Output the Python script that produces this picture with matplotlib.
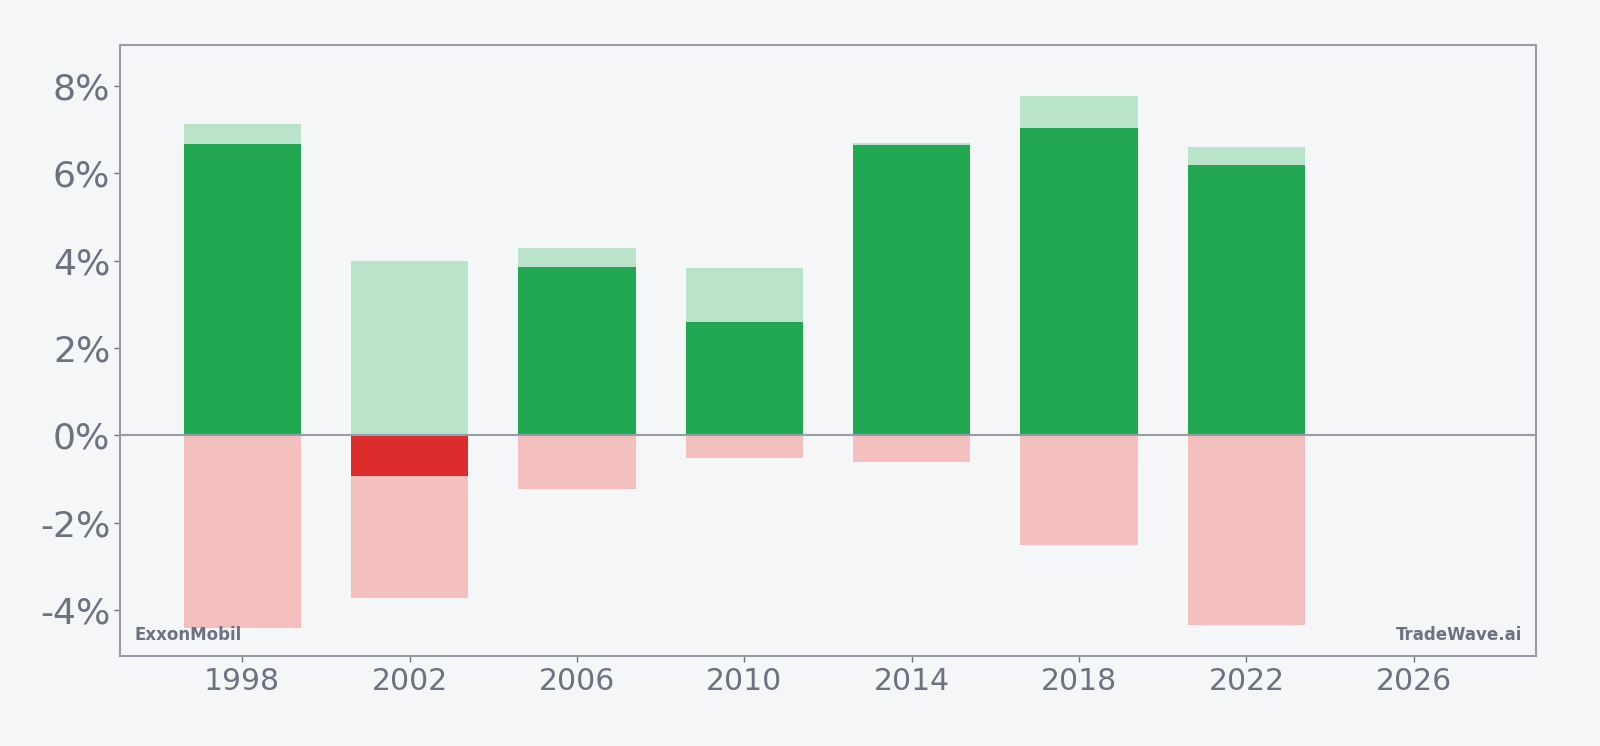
import matplotlib
matplotlib.use("Agg")
import matplotlib.pyplot as plt
from matplotlib.ticker import FuncFormatter

# yearly return range per period (percent)
years = [1998, 2002, 2006, 2010, 2014, 2018, 2022]
high = [7.13, 4.00, 4.29, 3.82, 6.69, 7.77, 6.60]
actual = [6.67, -0.93, 3.85, 2.59, 6.65, 7.04, 6.19]
low = [-4.40, -3.73, -1.22, -0.52, -0.61, -2.50, -4.35]
x_ticks = [1998, 2002, 2006, 2010, 2014, 2018, 2022, 2026]
y_ticks = [-4, -2, 0, 2, 4, 6, 8]

bg = '#f5f6f8'
axis_col = '#9a9ca8'
text_col = '#6b7280'
dark_green = '#22a853'
light_green = '#b9e4ca'
dark_red = '#dc2c2c'
light_red = '#f4bfbf'

fig = plt.figure(figsize=(16, 7.46), dpi=100, facecolor=bg)
ax = fig.add_axes([0.075, 0.1206, 0.885, 0.8194])
ax.set_facecolor(bg)

w = 2.8
ax.bar(years, high, width=w, color=light_green, zorder=2)
ax.bar(years, low, width=w, color=light_red, zorder=2)
pos = [a if a > 0 else 0 for a in actual]
neg = [a if a < 0 else 0 for a in actual]
ax.bar(years, pos, width=w, color=dark_green, zorder=3)
ax.bar(years, neg, width=w, color=dark_red, zorder=3)

ax.axhline(0, color=axis_col, linewidth=1.5, zorder=4)

ax.set_xlim(1995.08, 2028.92)
ax.set_ylim(-5.05, 8.94)
ax.set_xticks(x_ticks)
ax.set_yticks(y_ticks)
ax.yaxis.set_major_formatter(FuncFormatter(lambda v, p: f"{v:.0f}%"))
ax.tick_params(axis='y', labelsize=26, colors=text_col, length=4, width=1, pad=3)
ax.tick_params(axis='x', labelsize=21.5, colors=text_col, length=4, width=1, pad=4)
for t in ax.get_xticklines() + ax.get_yticklines():
    t.set_color(axis_col)

for s in ax.spines.values():
    s.set_color(axis_col)
    s.set_linewidth(1.5)

ax.text(0.01, 0.02, 'ExxonMobil', transform=ax.transAxes, fontsize=12,
        fontweight='bold', color=text_col, ha='left', va='bottom', zorder=5)
ax.text(0.99, 0.02, 'TradeWave.ai', transform=ax.transAxes, fontsize=12,
        fontweight='bold', color=text_col, ha='right', va='bottom', zorder=5)

plt.savefig('out.png', dpi=100, facecolor=bg)
